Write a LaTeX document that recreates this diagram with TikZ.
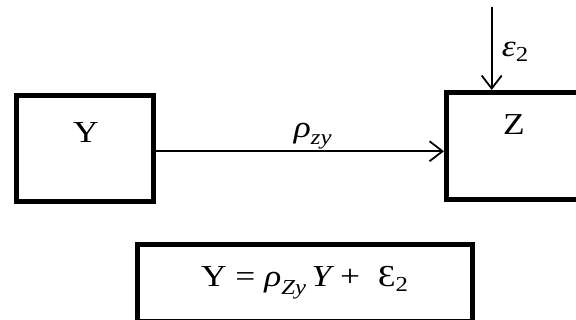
\RequirePackage{fix-cm}
\documentclass[tikz,border=0pt]{standalone}
\usepackage{amsmath}
\usepackage{fontspec}
\setmainfont{Liberation Serif}[FakeStretch=1.16]
\usetikzlibrary{arrows.meta,positioning}
\newcommand{\mi}[1]{\text{\itshape #1}}
\tikzset{
  blk/.style={draw,line width=5pt,inner sep=0pt},
  arr/.style={line width=1.8pt,-{Straight Barb[length=13pt,width=20pt,line width=1.8pt]}}
}
\begin{document}
\begin{tikzpicture}[x=1pt,y=-1pt,font=\fontsize{30.5}{37}\selectfont]
\useasboundingbox (0,0) rectangle (576,320);
\node[blk,minimum width=137.5pt,minimum height=105.5pt] (Y) at (84.75,148.75) {};
\node[blk,minimum width=137pt,minimum height=107pt] (Z) at (515,146) {};
\node[blk,minimum width=334.5pt,minimum height=76.5pt] (eqbox) at (304.75,283.25) {};
\node[anchor=base] (ylab) at (86,142.5) {Y};
\node[anchor=base] (zlab) at (514,135) {Z};
\node[anchor=base] (eqn) at (304.75,287)
  {Y = $\mi{ρ}_{\mi{Zy}}$\,\mi{Y} + \ Ɛ$_{\text{2}}$};
\coordinate (e2in) at (491.7,7);
\draw[arr] ([yshift=-2.5pt]Y.east) -- ([yshift=-2.5pt]Y.east -| Z.west)
  node[pos=0.545,anchor=base,yshift=14pt] (rho) {$\mi{ρ}_{\mi{zy}}$};
\draw[arr] (e2in) -- (e2in |- Z.north)
  node[pos=0.6,anchor=base west,xshift=6pt] (e2) {$\mi{ε}_{\text{2}}$};
\end{tikzpicture}
\end{document}
